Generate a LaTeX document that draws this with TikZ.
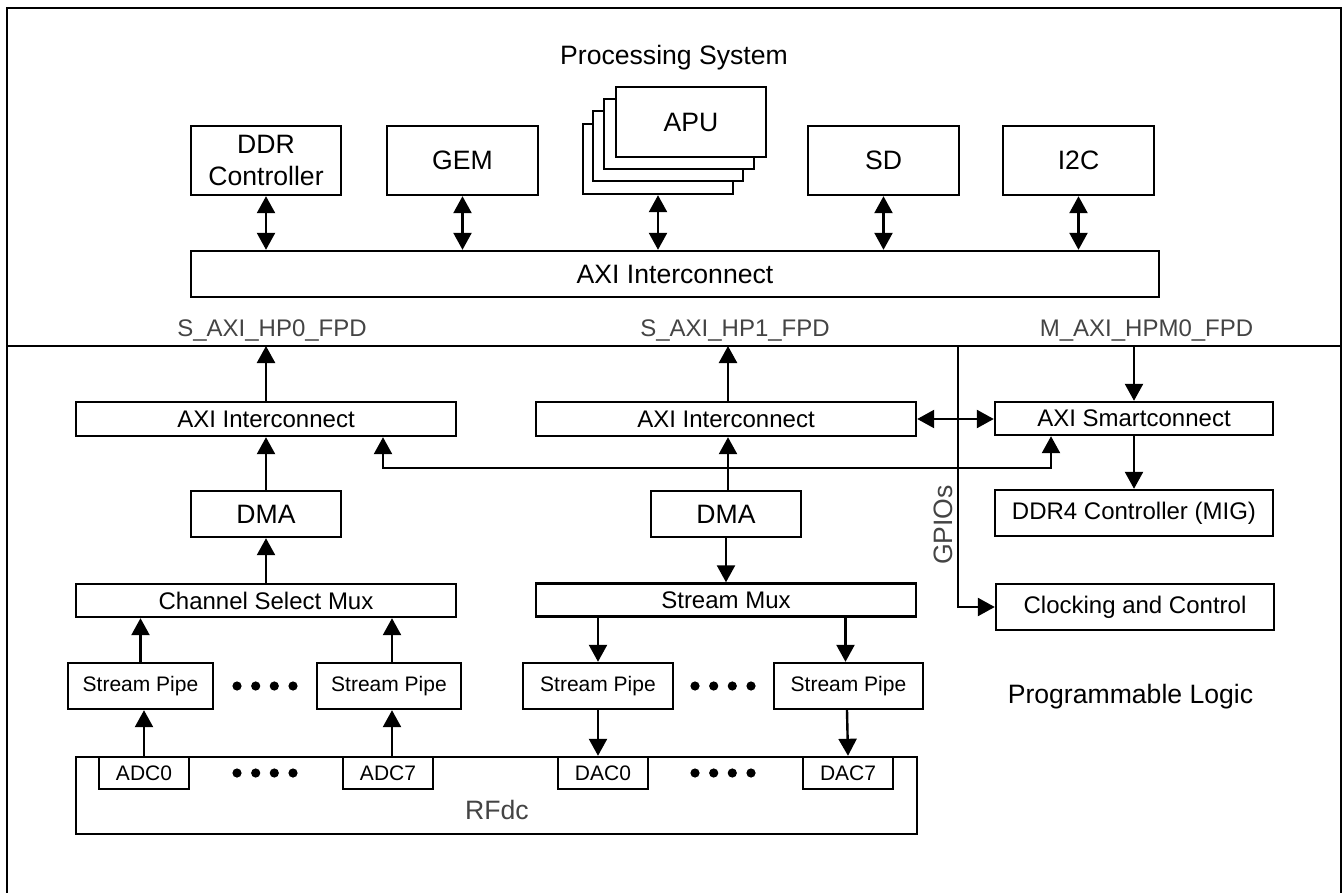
\documentclass[tikz,border=0pt]{standalone}
\usepackage{fontspec}
\setmainfont{Liberation Sans}
\usetikzlibrary{arrows.meta,calc}
\definecolor{lblgray}{RGB}{68,68,68}
\tikzset{
  big/.style={font=\fontsize{26.6}{32}\selectfont},
  mid/.style={font=\fontsize{24}{28}\selectfont},
  sml/.style={font=\fontsize{21}{25}\selectfont},
  box/.style={draw, line width=2.4pt, fill=white, inner sep=0pt, align=center},
  conn/.style={line width=2.4pt, -{Triangle[width=18pt,length=17pt]}},
  bconn/.style={line width=2.4pt, {Triangle[width=18pt,length=17pt]}-{Triangle[width=18pt,length=17pt]}},
  lbl/.style={text=lblgray, inner sep=0pt, anchor=base},
  dotmark/.style={fill=black, draw=none},
}
\begin{document}
\begin{tikzpicture}[x=1pt,y=-1pt]
\useasboundingbox (0,0) rectangle (1344,893);
% frame and divider
\coordinate (divL) at (7,346);
\coordinate (divR) at (1341,346);
\draw[line width=2.4pt] (7,893) -- (7,8) -- (1341,8) -- (1341,893);
\draw[line width=2.4pt] (divL) -- (divR);

% titles
\node[big, inner sep=0pt, anchor=base] (pstitle) at (674,65) {Processing System};
\node[big, inner sep=0pt, anchor=base] (pltitle) at (1130.5,703) {Programmable Logic};

% PS blocks
\node[box, big, minimum width=150pt, minimum height=69pt] (ddr) at (266,160.5) {DDR\\Controller};
\node[box, big, minimum width=151pt, minimum height=69pt] (gem) at (462.5,160.5) {GEM};
\node[box, minimum width=150pt, minimum height=70pt] (apu4) at (658,159) {};
\node[box, minimum width=150pt, minimum height=70pt] (apu3) at (668,146) {};
\node[box, minimum width=150pt, minimum height=70pt] (apu2) at (679,134) {};
\node[box, big, minimum width=150pt, minimum height=70pt] (apu) at (691,122) {APU};
\node[box, big, minimum width=151pt, minimum height=69pt] (sd) at (883.5,160.5) {SD};
\node[box, big, minimum width=151pt, minimum height=69pt] (i2c) at (1078.5,160.5) {I2C};
\node[box, big, minimum width=968pt, minimum height=46pt] (axitop) at (675,274) {AXI Interconnect};

\draw[bconn] (ddr.south) -- (ddr.south |- axitop.north);
\draw[bconn] (gem.south) -- (gem.south |- axitop.north);
\draw[bconn] (apu4.south) -- (apu4.south |- axitop.north);
\draw[bconn] (sd.south) -- (sd.south |- axitop.north);
\draw[bconn] (i2c.south) -- (i2c.south |- axitop.north);

% port labels
\node[lbl, mid] (hp0) at (272,337) {S\_AXI\_HP0\_FPD};
\node[lbl, mid] (hp1) at (735,337) {S\_AXI\_HP1\_FPD};
\node[lbl, mid] (hpm0) at (1146.5,337) {M\_AXI\_HPM0\_FPD};

% PL blocks
\node[box, mid, minimum width=380pt, minimum height=34pt] (ic1) at (266,419) {AXI Interconnect};
\node[box, mid, minimum width=380pt, minimum height=34pt] (ic2) at (726,419) {AXI Interconnect};
\node[box, mid, minimum width=278pt, minimum height=33pt] (sc) at (1134,418.5) {AXI Smartconnect};
\node[box, mid, minimum width=278pt, minimum height=46pt] (ddr4) at (1134,513) {DDR4 Controller (MIG)};
\node[box, mid, minimum width=278pt, minimum height=46pt] (clk) at (1135,607) {Clocking and Control};
\node[box, big, minimum width=150pt, minimum height=46pt] (dma1) at (266,514) {DMA};
\node[box, big, minimum width=150pt, minimum height=46pt] (dma2) at (726,514) {DMA};
\node[box, mid, minimum width=380pt, minimum height=33pt] (csm) at (266,600.5) {Channel Select Mux};
\node[box, mid, minimum width=380pt, minimum height=33pt] (smux) at (726,600) {Stream Mux};
\node[box, sml, minimum width=145pt, minimum height=46pt] (sp1) at (140.5,686) {Stream Pipe};
\node[box, sml, minimum width=144pt, minimum height=46pt] (sp2) at (389,686) {Stream Pipe};
\node[box, sml, minimum width=150pt, minimum height=46pt] (sp3) at (598,686) {Stream Pipe};
\node[box, sml, minimum width=149pt, minimum height=46pt] (sp4) at (848.5,686) {Stream Pipe};
\node[box, minimum width=841pt, minimum height=77pt] (rfdc) at (496.5,795.5) {};
\node[lbl, big] (rfdclbl) at (497,819) {RFdc};
\node[box, sml, minimum width=90pt, minimum height=32pt] (adc0) at (144,773) {ADC0};
\node[box, sml, minimum width=90pt, minimum height=32pt] (adc7) at (388,773) {ADC7};
\node[box, sml, minimum width=90pt, minimum height=32pt] (dac0) at (603,773) {DAC0};
\node[box, sml, minimum width=90pt, minimum height=32pt] (dac7) at (848,773) {DAC7};

% dots
\foreach \cx/\cy in {265/686, 265/773, 723/686, 723/773}{
  \foreach \dx in {-28,-9.3,9.3,28}{
    \fill[dotmark] (\cx+\dx,\cy) circle (4.6pt);
  }
}

% PL connectors
\draw[conn] (ic1.north) -- (ic1.north |- divL);
\draw[conn] ([xshift=2pt]ic2.north) -- ([xshift=2pt]ic2.north |- divL);
\draw[conn] (sc.north |- divL) -- (sc.north);
\draw[conn] (dma1.north) -- (ic1.south);
\draw[conn] (csm.north) -- (dma1.south);
\draw[conn] ([xshift=2pt]dma2.north) -- ([xshift=2pt]dma2.north |- ic2.south);
\draw[conn] (dma2.south) -- (smux.north);
\draw[bconn] (ic2.east) -- (ic2.east -| sc.west);
\draw[conn] (sc.south) -- (ddr4.north);
\coordinate (bend) at (1051,468);
\draw[bconn] ([xshift=117pt]ic1.south) |- (bend) -- (bend |- sc.south);
\coordinate (gpiotop) at (958,346);
\draw[conn] (gpiotop) |- (clk.west);
\node[lbl, big, rotate=90, anchor=center] (gpios) at (943.5,525) {GPIOs};

\draw[conn] (sp1.north) -- (sp1.north |- csm.south);
\draw[conn] (adc0.north |- rfdc.north) -- (adc0.north |- sp1.south);
\draw[conn] ([xshift=3pt]sp2.north) -- ([xshift=3pt]sp2.north |- csm.south);
\draw[conn] ([xshift=4pt]adc7.north) -- ([xshift=4pt]adc7.north |- sp2.south);
\draw[conn] (sp3.north |- smux.south) -- (sp3.north);
\draw[conn] ([xshift=-3pt]sp4.north |- smux.south) -- ([xshift=-3pt]sp4.north);
\draw[conn] (sp3.south) -- (sp3.south |- dac0.north);
\draw[conn] ([xshift=-1.5pt]sp4.south) -- (dac7.north);
\end{tikzpicture}
\end{document}
